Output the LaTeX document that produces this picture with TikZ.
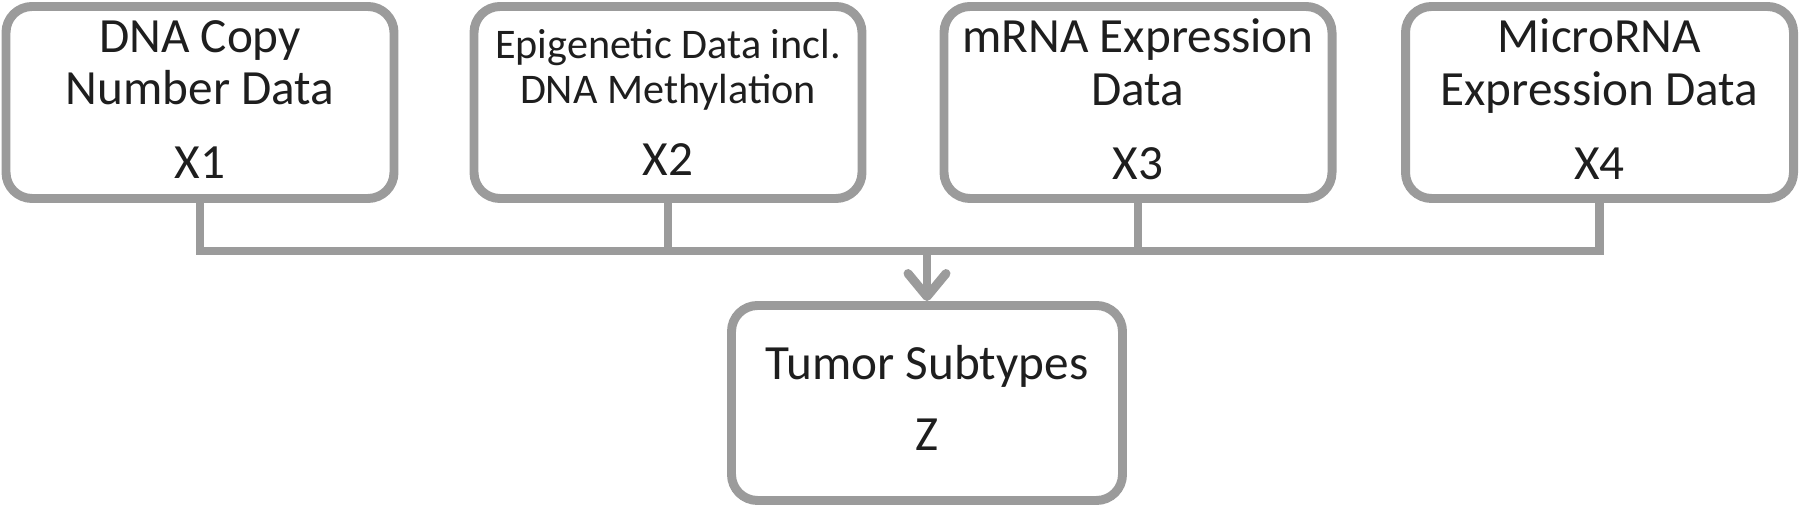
\documentclass[tikz,border=0pt]{standalone}
\usepackage{fontspec}
\setmainfont{Carlito}
\usetikzlibrary{arrows.meta,positioning}
\definecolor{boxgray}{HTML}{9B9B9B}
\definecolor{inkgray}{HTML}{1E1E1E}
\tikzset{
  >={Straight Barb[round,length=2.3mm,width=3.8mm]},
  % kasten
  datbox/.style={rounded corners=2.6mm,draw=boxgray,fill=white,line width=2.55pt,
                 minimum height=19.2mm,minimum width=38.8mm,align=center,
                 text=inkgray,inner sep=0pt,font=\fontsize{14}{14.8}\selectfont},
  outbox/.style={datbox,minimum height=19.5mm,minimum width=39.1mm},
  link/.style={draw=boxgray,line width=2.55pt},
}

\begin{document}
\begin{tikzpicture}[x=0.1mm,y=-0.1mm]
\useasboundingbox (0,0) rectangle (1800,506);
  \node[datbox] (x1) at (200,102.5)
    {DNA Copy\\Number Data\\[6.5pt]X1\rule[-1.7pt]{0pt}{0pt}};
  \node[datbox,font=\fontsize{12}{12.8}\selectfont] (x2) at (668,102.5)
    {Epigenetic Data incl.\\DNA Methylation\\[7.7pt]{\fontsize{14}{14}\selectfont X2}};
  \node[datbox] (x3) at (1138,102.5)
    {mRNA Expression\\Data\\[6.5pt]X3\rule[-1.7pt]{0pt}{0pt}};
  \node[datbox] (x4) at (1599.5,102.5)
    {MicroRNA\\Expression Data\\[6.5pt]X4\rule[-1.7pt]{0pt}{0pt}};
  \node[outbox] (z) at (927,403) {Tumor Subtypes\\[5.3pt]Z\rule[-2.8pt]{0pt}{0pt}};
  \coordinate (bus) at (927,251);
  \draw[link] (x1.south) |- (bus) -| (x4.south);
  \draw[link] (x2.south) -- (x2.south |- bus);
  \draw[link] (x3.south) -- (x3.south |- bus);
  \draw[link,->] (bus) -- (z.north);
\end{tikzpicture}
\end{document}
